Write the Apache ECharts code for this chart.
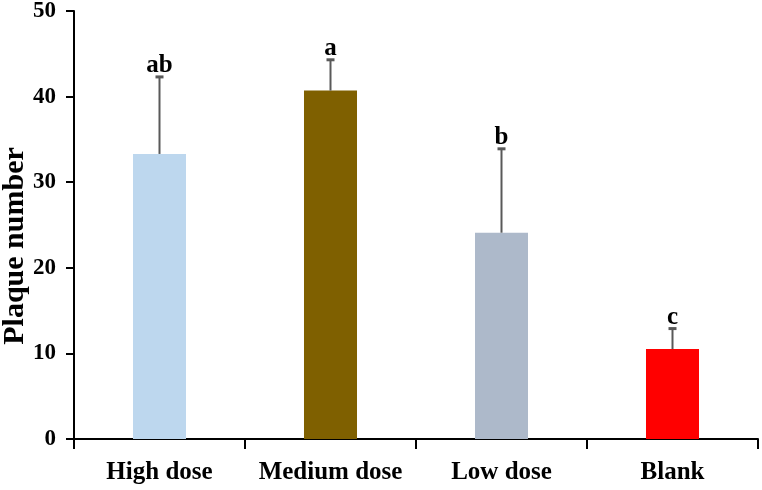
<!DOCTYPE html>
<html>
<head>
<meta charset="utf-8">
<script src="https://cdn.jsdelivr.net/npm/echarts@6/dist/echarts.min.js"></script>
<style>html,body{margin:0;padding:0;background:#fff}#c{width:762px;height:490px}</style>
</head>
<body>
<div id="c"></div>
<script>
var categories = ['High dose', 'Medium dose', 'Low dose', 'Blank'];
var means = [33.3, 40.7, 24.1, 10.5];
var errors = [9.0, 3.6, 9.8, 2.4];
var letters = ['ab', 'a', 'b', 'c'];
var colors = ['#BDD7EE', '#7F6000', '#ADB9CA', '#FF0000'];
var yTicks = [0, 10, 20, 30, 40, 50];
var yTitle = 'Plaque number';

var font = '"Liberation Serif", "Times New Roman", serif';
var chart = echarts.init(document.getElementById('c'), null, {renderer: 'canvas'});

var barData = means.map(function (v, i) {
  return {value: v, itemStyle: {color: colors[i]}};
});
var errData = means.map(function (v, i) {
  return [i, v, v + errors[i], letters[i]];
});

chart.setOption({
  animation: false,
  backgroundColor: '#fff',
  grid: {left: 74, right: 4, top: 11, bottom: 51, containLabel: false, outerBoundsMode: 'none'},
  graphic: [{
    type: 'text',
    x: 15,
    y: 246,
    rotation: Math.PI / 2,
    style: {text: yTitle, fill: '#000', font: 'bold 30px ' + font, textAlign: 'center', textVerticalAlign: 'middle'}
  }],
  xAxis: {
    type: 'category',
    data: categories,
    axisLine: {lineStyle: {color: '#000', width: 2}},
    axisTick: {show: true, interval: 0, length: 10, lineStyle: {color: '#000', width: 2}},
    axisLabel: {interval: 0, color: '#000', fontFamily: font, fontWeight: 'bold', fontSize: 25, margin: 21},
    splitLine: {show: false}
  },
  yAxis: {
    type: 'value',
    min: yTicks[0],
    max: yTicks[yTicks.length - 1],
    interval: 10,
    axisLine: {show: true, lineStyle: {color: '#000', width: 2}},
    axisTick: {show: true, length: 8, lineStyle: {color: '#000', width: 2}},
    axisLabel: {color: '#000', fontFamily: font, fontWeight: 'bold', fontSize: 23, margin: 18},
    splitLine: {show: false}
  },
  series: [
    {
      type: 'bar',
      data: barData,
      barWidth: '31%'
    },
    {
      type: 'custom',
      data: errData,
      z: 5,
      renderItem: function (params, api) {
        var base = api.coord([api.value(0), api.value(1)]);
        var top = api.coord([api.value(0), api.value(2)]);
        var x = base[0];
        var hw = 4;
        return {
          type: 'group',
          children: [
            {type: 'line', shape: {x1: x, y1: base[1], x2: x, y2: top[1]}, style: {stroke: '#595959', lineWidth: 2}},
            {type: 'line', shape: {x1: x - hw, y1: top[1], x2: x + hw, y2: top[1]}, style: {stroke: '#595959', lineWidth: 3}},
            {type: 'text', x: x, y: top[1] + 1.5, style: {text: api.value(3), fill: '#000', font: 'bold 25px ' + font, textAlign: 'center', textVerticalAlign: 'bottom'}}
          ]
        };
      }
    }
  ]
});
</script>
</body>
</html>
